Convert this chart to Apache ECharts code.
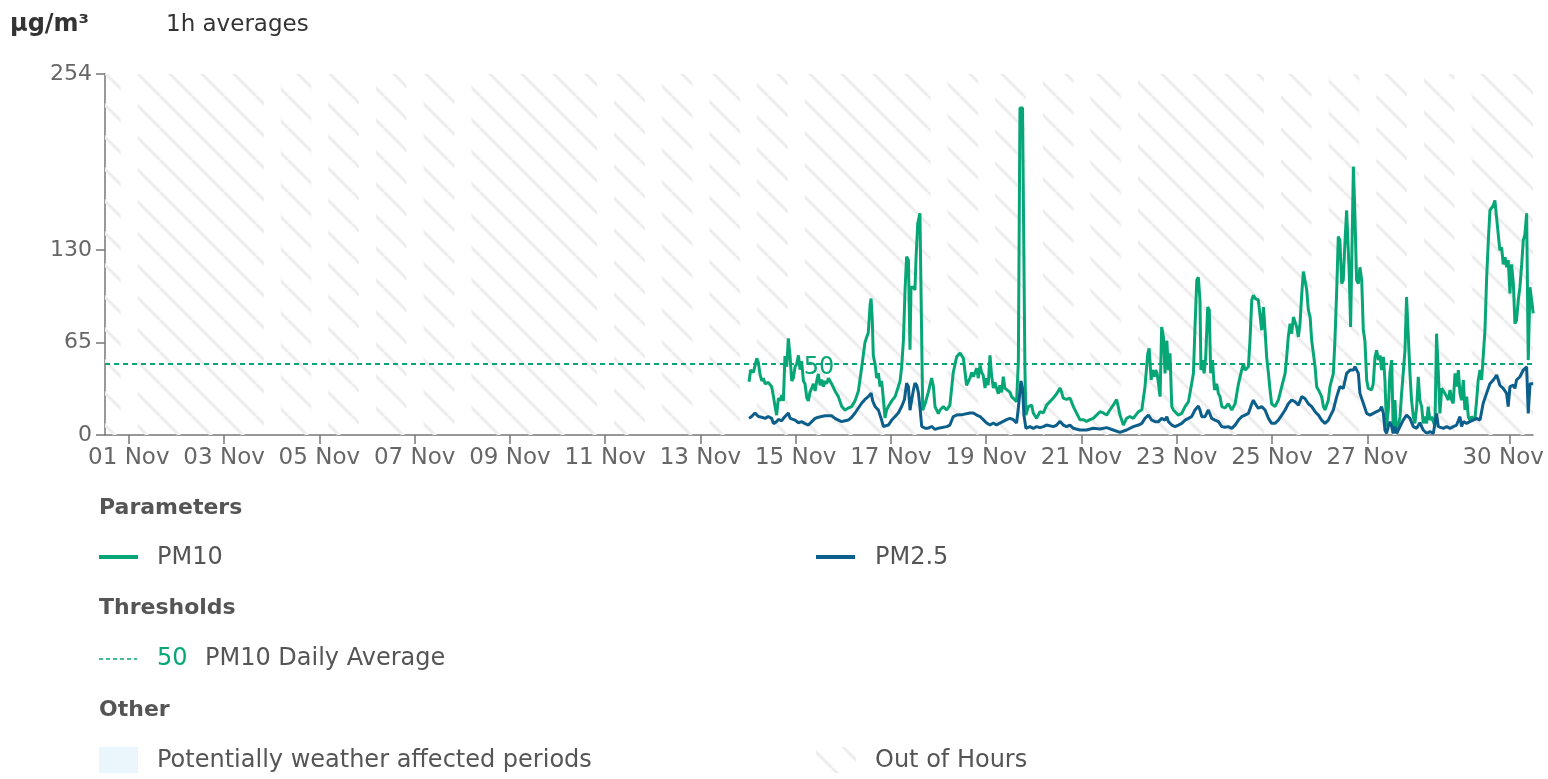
<!DOCTYPE html>
<html><head><meta charset="utf-8">
<script src="https://cdn.jsdelivr.net/npm/echarts@6/dist/echarts.min.js"></script>
<style>html,body{margin:0;padding:0;background:#fff}#c{width:1548px;height:779px}</style>
</head><body><div id="c"></div>
<script>
// ---------- data ----------
const unitLabel = 'μg/m³';
const periodLabel = '1h averages';
const yTicks = [0, 65, 130, 254];
const xTickDays = [1, 3, 5, 7, 9, 11, 13, 15, 17, 19, 21, 23, 25, 27, 30];
const inHoursDays = [1, 4, 5, 6, 7, 8, 11, 12, 13, 14, 15, 18, 19, 20, 21, 22, 25, 26, 27, 28, 29];
const thresholdValue = 50;
const thresholdName = 'PM10 Daily Average';
// [hours since 14 Nov 00:00, value]
const pm10 = [[0.5,37.5],[1.3,45.7],[2.7,44],[4.4,54],[5.2,51],[6.0,43],[6.9,38],[7.7,40],[8.6,36],[10.2,37],[11.1,38],[11.9,34],[12.8,27],[13.6,20],[14.4,14],[15.3,26],[16.1,24],[17.0,28],[17.8,24],[18.6,55.5],[19.5,48],[20.3,68],[21.2,55],[22.0,38],[22.8,40],[23.7,48],[24.5,50],[25.4,56],[26.2,46],[27.0,52],[27.9,38],[28.7,36],[29.6,26],[30.4,24],[31.2,30],[32.1,33],[32.9,36],[33.8,31],[34.6,38],[35.4,43],[36.3,35],[37.1,39],[38.0,34],[38.8,38],[39.6,36],[40.5,40],[41.3,39],[42.1,36],[43.0,37],[43.8,31],[45.5,27],[47.2,20],[48.9,17.5],[50.5,19],[52.2,20],[53.9,24],[55.6,31],[57.3,48],[58.9,65],[59.8,69],[60.6,72],[61.5,91.6],[62.0,96],[62.6,81],[63.1,56],[64.0,50],[64.8,40],[65.7,43.5],[66.5,34],[67.3,38],[68.2,25],[69.0,12],[69.9,18],[70.7,20],[72.4,24],[74.1,27],[75.7,34],[76.6,38],[77.4,48],[78.3,67],[79.1,102],[79.9,125.5],[80.8,123],[81.6,60],[82.1,104],[83.3,104],[84.1,102],[84.6,123],[85.5,149],[86.6,156],[87.2,155],[88.0,17.5],[89.2,22],[90.8,30],[92.5,40],[93.4,34],[94.2,20],[95.9,15],
[96.7,17.6],[98.4,20],[100.1,17.6],[101.7,21],[103.4,44],[105.1,55],[106.8,57.6],[108.5,54],[110.1,35],[111.8,40],[112.7,44],[113.5,41],[115.2,47],[116.0,40],[116.9,49],[117.7,44],[118.5,42],[119.4,33],[120.2,40],[121.0,35],[121.9,56],[122.7,42],[123.6,33],[124.4,37],[125.2,33],[126.1,29],[126.9,35],[127.8,30],[128.6,41],[129.4,33],[130.3,33],[132.0,30],[132.8,27],[133.6,26],[135.3,23.5],[136.2,51.7],[137.0,230],[138.3,230],[139.5,47],[140.0,14],[141.2,20],[142.9,21],[143.7,15.5],[145.4,11.7],[147.1,16.4],[148.8,15.5],[150.4,21],[152.1,23.5],[153.8,26],[155.5,29],[157.2,33],[158.0,30],[158.8,26],[160.5,25],[162.2,26],[163.9,20],[165.5,15.5],[167.2,10.8],[168.9,10.8],[170.6,9.6],[172.3,10.8],[173.9,11.7],[175.6,14],[177.3,16.4],[179.0,15.5],[180.7,14],[182.3,17.6],[184.0,21],[185.7,25],[186.5,20],[187.4,14],[189.1,7],[190.7,11.7],[192.4,13],[194.1,11.7],
[195.0,12.9],[196.7,16.4],[198.4,17.6],[200.0,34],[201.4,57.4],[202.1,61],[203.1,38.7],[203.7,45.7],[204.7,41],[205.4,45.7],[206.1,43.4],[206.8,36],[207.6,27],[208.4,76],[209.3,69],[210.1,43.4],[211.0,66.5],[211.8,45.7],[212.6,57.4],[213.5,20],[214.3,17.6],[215.2,17.6],[216.8,14],[218.5,15.2],[220.2,20],[221.9,23.4],[223.5,36],[224.4,43.4],[225.2,76],[226.1,109],[226.9,111],[227.7,95],[228.2,45.7],[228.9,52.7],[229.8,43.4],[230.6,55],[231.6,90],[232.4,88],[233.1,43.4],[234.0,52.7],[235.0,31.7],[236.1,36],[237.0,29],[237.8,27],[238.7,20],[240.3,19],[242.0,22],[243.7,17.6],[245.4,22],[247.1,36],[248.7,45.7],[249.6,50.4],[250.4,45.7],[252.1,48],[252.9,66.5],[253.8,95],[254.6,98.4],[255.5,96],[256.3,97],[257.1,95],[258.0,95],[258.8,73.7],[259.7,90],[260.5,73.7],[261.3,55],[262.2,43.4],[263.0,31.7],[263.8,22],[265.5,20],[267.2,24.6],[268.9,34],[270.6,43.4],[271.4,55],[272.2,69],[273.1,78.3],[273.9,71.3],[274.8,83],[275.6,79.6],[276.4,76],[277.3,69],[278.1,78.3],[279.0,99.6],[279.8,115],[280.6,114],[281.5,102],[282.3,88],[283.2,83],[284.0,66.5],[285.7,48],[286.5,34],[287.4,31.7],[289.0,27],[289.9,20],[290.7,17.6],[292.4,24.6],
[293.2,34],[294.9,43.4],[295.7,66.5],[296.6,102],[297.4,139.6],[298.2,137],[299.1,106.6],[299.9,109],[300.8,137],[301.6,158],[302.4,157],[302.9,114],[303.6,76],[304.1,75],[305.0,188.8],[305.8,153.6],[306.6,109],[307.5,106.6],[308.3,118],[309.2,109],[310.0,73.7],[310.8,66.5],[311.7,38.7],[312.5,32.8],[313.4,34],[314.2,31.7],[315.0,36],[315.9,55],[316.7,59.6],[317.6,52.7],[318.4,56],[319.2,45.7],[320.1,55],[320.9,38.7],[321.7,5.9],[322.6,17.6],[323.4,43.4],[324.3,52.7],[325.1,1.2],[325.9,24.6],[326.8,1.2],[327.6,5.9],[328.5,12.9],[329.3,29.3],[330.1,43.4],[331.0,59.6],[331.8,97],[332.7,98.4],[333.5,43.4],[334.3,24.6],[335.2,12.9],[336.0,8.2],[336.9,20],[337.7,41],[338.5,24.6],[339.4,20],[340.2,8.2],[341.1,12.9],[341.9,8.2],[342.7,20],[343.6,10.5],[344.4,12.9],[345.3,9.4],[346.1,5.9],[346.9,71.3],[347.8,43.4],[348.6,15.2],[349.5,32.8],[350.3,31.7],[351.1,29.3],[352.0,27],[352.8,24.6],[353.7,31.7],[354.5,24.6],[355.3,22.3],[356.2,43.4],[357.0,34],[357.9,45.7],[358.7,29.3],[359.5,24.6],[360.4,38.7],[361.2,17.6],[362.1,27],[362.9,12.9],[363.7,10.5],[364.6,12.9],[365.4,11.7],[366.2,10.5],[367.1,24.6],[367.9,38.7],[368.8,45.7],[369.6,38.7],[370.4,55],[371.3,73.7],[372.1,109],[373.0,137],[373.8,158],[374.6,159],[375.5,161.5],[376.3,165],[377.2,166],[378.0,141],[378.8,130],[379.7,132],[380.5,120],[381.4,125],[382.2,118],[383.0,123],[383.9,99.6],[384.7,120],[385.6,106.6],[386.4,78.3],[387.2,80.6],[388.1,95],[388.9,104],[389.8,120],[390.6,137],[391.4,141],[392.3,156],[393.1,52.7],[394.0,104],[394.8,95],[395.6,85.6]];
const pm25 = [[0.5,11.7],[1.8,13],[3.5,15.5],[5.2,13],[6.9,12.5],[8.6,11.7],[10.2,13],[11.1,14],[11.9,11.7],[12.8,8],[13.6,7],[14.4,9.4],[15.3,11],[16.1,11.7],[17.0,10],[17.8,11.7],[18.6,13],[20.3,15.5],[21.2,11.7],[22.0,11],[23.7,10.5],[25.4,8.6],[27.0,9.4],[28.7,8],[30.4,7],[32.1,9.4],[33.8,11.7],[35.4,12.5],[37.1,13],[38.8,13.5],[40.5,13.5],[42.1,13.5],[43.8,11.7],[45.5,10.5],[47.2,9.4],[48.9,10],[50.5,10.5],[52.2,12.5],[53.9,15.5],[55.6,19],[57.3,22.5],[58.9,25],[60.6,27],[62.0,29.5],[62.8,24],[64.0,20],[65.7,17.5],[66.5,14],[67.3,10.5],[68.2,6],[69.0,4.8],[70.7,7],[72.4,10.5],[74.1,13],[75.7,15.5],[77.4,20],[78.8,25],[79.9,36.5],[80.8,34],[81.6,17.5],[82.5,25],[83.3,31.5],[84.1,36.5],[85.0,35],[85.8,30],[86.6,20],[87.5,6],[89.2,4.8],[90.8,4.8],[92.5,6],[94.2,4],[95.9,4.8],
[96.7,4.7],[100.1,5.9],[101.7,7],[103.4,13],[105.1,14],[108.5,14.5],[111.8,15.5],[113.5,15.5],[115.2,14],[116.9,13],[118.5,10.8],[120.2,8.4],[121.9,7],[123.6,8.4],[125.2,7],[126.9,8.4],[128.6,9.6],[130.3,10.8],[132.0,11.7],[133.6,10.8],[135.3,8.4],[136.2,19],[137.5,38],[138.3,33],[139.0,14],[140.0,4.7],[142.0,5.9],[143.7,4.7],[145.4,5.9],[147.1,5.2],[148.8,5.9],[150.4,7],[153.8,5.9],[155.5,7],[157.2,9.6],[158.8,7],[160.5,5.9],[162.2,7],[163.9,4.7],[167.2,3.5],[170.6,3.5],[173.9,4.7],[177.3,4.2],[180.7,5.2],[184.0,3.5],[187.4,1.9],[190.7,3.5],[194.1,5.9],
[195.0,5.9],[196.7,7],[198.4,8.2],[200.0,11.7],[201.7,14],[203.4,10.5],[205.1,9.4],[206.8,9.4],[207.6,8.2],[208.4,11.7],[210.1,10.5],[211.0,12.9],[211.8,9.4],[213.5,7],[215.2,5.9],[216.8,7],[218.5,8.2],[220.2,10.5],[221.9,11.7],[223.5,12.9],[225.2,17.6],[226.9,20.4],[227.7,17.6],[228.6,12.9],[230.3,12.9],[231.9,17.6],[233.6,11.7],[235.3,10.5],[237.0,9.4],[238.7,5.9],[240.3,5.4],[242.0,5.9],[243.7,4.7],[245.4,7],[247.1,10.5],[248.7,12.9],[250.4,14],[252.1,15.2],[253.8,22],[254.6,24.6],[255.5,22],[257.1,18.8],[258.8,20],[260.5,17.6],[262.2,11.7],[263.8,8.2],[265.5,8.2],[267.2,10.5],[268.9,14],[270.6,17.6],[272.2,22],[273.9,24.6],[275.6,23.4],[277.3,21],[279.0,27],[279.8,28],[280.6,25.7],[282.3,22],[284.0,20],[285.7,16.4],[287.4,14],[289.0,10.5],[290.7,8.2],[292.4,10.5],
[293.2,12.9],[294.9,17.6],[296.6,27],[298.2,34],[299.9,32.8],[301.6,43.4],[303.3,45.7],[305.0,45.7],[305.8,48],[306.6,48],[307.5,43.4],[308.3,29.3],[310.0,22.3],[311.7,15.2],[313.4,14],[315.0,15.2],[316.7,16.4],[318.4,17.6],[319.2,20],[320.1,15.2],[320.9,3.5],[321.7,1.2],[322.6,5.9],[323.4,9.4],[324.3,5.9],[325.1,1.2],[325.9,5.9],[326.8,1.2],[328.5,5.9],[330.1,10.5],[331.8,14],[333.5,11.7],[335.2,5.9],[336.9,4.7],[338.5,8.7],[340.2,3.5],[341.9,1.2],[343.6,2.3],[345.3,1.2],[346.9,15.2],[347.8,5.9],[348.6,4.7],[350.3,4.7],[352.0,5.9],[353.7,4.7],[355.3,5.9],[357.0,7],[358.7,12.9],[359.5,5.9],[360.4,9.4],[362.1,8.2],[363.7,9.4],[365.4,10.5],[367.1,11.7],[368.8,10.5],[369.6,16.4],[370.4,22.3],[372.1,29.3],[373.8,36],[375.5,38.7],[377.2,42.2],[378.0,38.7],[378.8,35],[380.5,32.8],[382.2,29.3],[383.0,20],[383.9,34],[385.6,35],[386.4,32.8],[387.2,38.7],[388.9,41],[390.6,45.7],[392.3,48],[393.1,15.2],[394.0,36],[395.6,36]];

// ---------- build ----------
const H = 3600 * 1000;
const dayTs = d => Date.UTC(2024, 10, d);
const seriesStart = Date.UTC(2024, 10, 14);
const xMin = Date.UTC(2024, 9, 31, 12);
const xMax = Date.UTC(2024, 10, 30, 11, 30);
const toSeries = arr => arr.map(p => [seriesStart + p[0] * H, p[1]]);

const FONT = 'DejaVu Sans';
const GREEN = '#07a677';
const BLUE = '#0c5f8a';

function hatchCanvas(size, lw, color) {
  const c = document.createElement('canvas');
  c.width = size; c.height = size;
  const g = c.getContext('2d');
  g.strokeStyle = color; g.lineWidth = lw;
  g.beginPath();
  [-size, 0, size].forEach(o => { g.moveTo(o, 0); g.lineTo(o + size, size); });
  g.stroke();
  return c;
}
const hatch = hatchCanvas(32, 3, '#ededed');

const bands = [];
let cur = xMin;
inHoursDays.forEach(d => {
  const s = dayTs(d) - 4 * H, e = dayTs(d) + 4.5 * H;
  bands.push([{ xAxis: cur }, { xAxis: s }]);
  cur = e;
});
bands.push([{ xAxis: cur }, { xAxis: xMax }]);

const txt = (x, y, text, opts) => ({
  type: 'text', x, y, silent: true,
  style: Object.assign({ text, fontFamily: FONT, fontSize: 24, fill: '#555', verticalAlign: 'middle', align: 'left' }, opts || {})
});

const chart = echarts.init(document.getElementById('c'), null, { renderer: 'canvas' });
chart.setOption({
  animation: false,
  backgroundColor: '#fff',
  textStyle: { fontFamily: FONT },
  grid: { left: 105, right: 15, top: 74, bottom: 344 },
  xAxis: {
    type: 'value', min: xMin, max: xMax,
    axisLine: { lineStyle: { color: '#777', width: 1.5 } },
    axisTick: { show: true, length: 9, lineStyle: { color: '#777', width: 1.5 }, customValues: xTickDays.map(dayTs) },
    axisLabel: {
      customValues: xTickDays.map(dayTs), fontSize: 23, color: '#666', margin: 12, fontFamily: FONT,
      formatter: v => {
        const d = new Date(v).getUTCDate();
        const s = (d < 10 ? '0' : '') + d + ' Nov';
        return d === 30 ? '{r|' + s + '}' : s;
      },
      rich: { r: { fontSize: 23, color: '#666', fontFamily: FONT, padding: [0, 14, 0, 0] } }
    },
    splitLine: { show: false }
  },
  yAxis: {
    type: 'value', min: 0, max: 254,
    axisLine: { show: true, lineStyle: { color: '#777', width: 1.5 } },
    axisTick: { show: true, length: 9, lineStyle: { color: '#777', width: 1.5 }, customValues: yTicks },
    axisLabel: { customValues: yTicks, fontSize: 22, color: '#666', margin: 13, fontFamily: FONT },
    splitLine: { show: false }
  },
  series: [
    {
      type: 'line', name: 'bands', data: [], silent: true, z: 1,
      markArea: { silent: true, itemStyle: { color: { image: hatch, repeat: 'repeat' } }, data: bands },
      markLine: {
        silent: true, symbol: ['none', 'none'], z: 2,
        lineStyle: { color: GREEN, type: [5, 4], width: 2 },
        label: { show: true, position: 'middle', formatter: String(thresholdValue), color: GREEN, fontSize: 24, fontFamily: FONT, distance: -4, verticalAlign: 'middle' },
        data: [{ yAxis: thresholdValue }]
      }
    },
    { type: 'line', name: 'PM10', data: toSeries(pm10), showSymbol: false, symbol: 'none', z: 3,
      lineStyle: { color: GREEN, width: 3 }, itemStyle: { color: GREEN } },
    { type: 'line', name: 'PM2.5', data: toSeries(pm25), showSymbol: false, symbol: 'none', z: 4,
      lineStyle: { color: BLUE, width: 3 }, itemStyle: { color: BLUE } }
  ],
  graphic: [
    txt(10, 25, unitLabel, { fontWeight: 'bold', fontSize: 24, fill: '#333' }),
    txt(166, 25, periodLabel, { fontSize: 23, fill: '#333' }),
    txt(99, 508, 'Parameters', { fontWeight: 'bold', fontSize: 22 }),
    { type: 'line', silent: true, shape: { x1: 99, y1: 557, x2: 138, y2: 557 }, style: { stroke: GREEN, lineWidth: 4 } },
    txt(157, 558, 'PM10'),
    { type: 'line', silent: true, shape: { x1: 816, y1: 557, x2: 855, y2: 557 }, style: { stroke: BLUE, lineWidth: 4 } },
    txt(875, 558, 'PM2.5'),
    txt(99, 608, 'Thresholds', { fontWeight: 'bold', fontSize: 22 }),
    { type: 'line', silent: true, shape: { x1: 99, y1: 659, x2: 137, y2: 659 }, style: { stroke: GREEN, lineWidth: 1.5, lineDash: [4, 3] } },
    txt(157, 659, String(thresholdValue), { fill: GREEN }),
    txt(205, 659, thresholdName),
    txt(99, 710, 'Other', { fontWeight: 'bold', fontSize: 22 }),
    { type: 'rect', silent: true, shape: { x: 99, y: 747, width: 39, height: 26 }, style: { fill: '#eaf5fc' } },
    txt(157, 761, 'Potentially weather affected periods'),
    { type: 'rect', silent: true, shape: { x: 816, y: 747, width: 40, height: 26 }, style: { fill: { image: hatch, repeat: 'repeat' } } },
    txt(875, 761, 'Out of Hours')
  ]
});
</script>
</body></html>
